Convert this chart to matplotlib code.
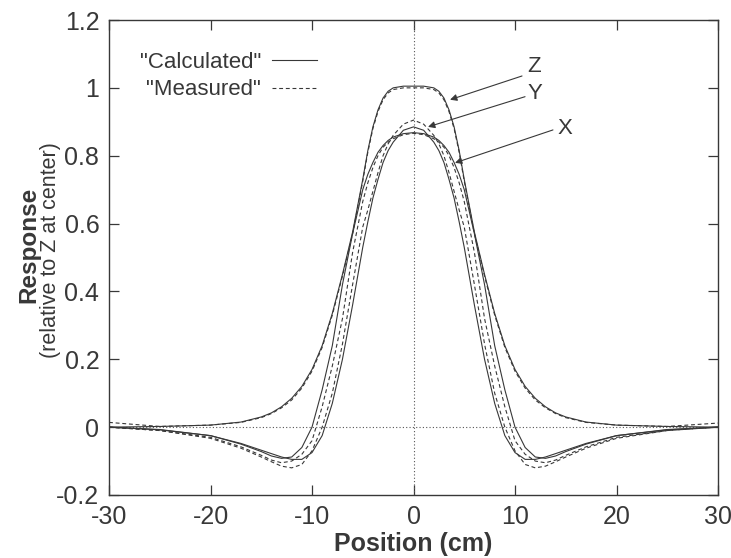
import numpy as np
import matplotlib
matplotlib.use('Agg')
import matplotlib.pyplot as plt

plt.rcParams['font.family'] = ['Liberation Sans', 'DejaVu Sans']

# positions (cm) shared by all curves
pos = [-30, -25, -20, -17, -15, -14, -13, -12, -11, -10, -9, -8, -7, -6, -5, -4.5, -4, -3.5, -3, -2.5, -2, -1,
       0, 1, 2, 2.5, 3, 3.5, 4, 4.5, 5, 6, 7, 8, 9, 10, 11, 12, 13, 14, 15, 17, 20, 25, 30]

# Z response
z_calc = [0.0, 0.002, 0.006, 0.015, 0.03, 0.042, 0.06, 0.085, 0.12, 0.17, 0.24, 0.335, 0.45, 0.575, 0.73, 0.815,
          0.885, 0.935, 0.97, 0.99, 1.0, 1.005,
          1.005, 1.005, 1.0, 0.99, 0.97, 0.935, 0.885, 0.815, 0.73, 0.575, 0.45, 0.335, 0.24, 0.17, 0.12,
          0.085, 0.06, 0.042, 0.03, 0.015, 0.006, 0.002, 0.0]
z_meas = [0.014, 0.002, 0.006, 0.014, 0.028, 0.04, 0.057, 0.08, 0.115, 0.165, 0.235, 0.33, 0.445, 0.57, 0.725, 0.81,
          0.88, 0.93, 0.965, 0.985, 0.995, 1.0,
          1.0, 1.0, 0.995, 0.985, 0.965, 0.93, 0.88, 0.81, 0.725, 0.57, 0.445, 0.33, 0.235, 0.165, 0.115,
          0.08, 0.057, 0.04, 0.028, 0.014, 0.006, 0.002, 0.012]

# X response
x_calc = [0.0, -0.007, -0.025, -0.05, -0.072, -0.085, -0.092, -0.088, -0.06, 0.0, 0.11, 0.24, 0.42, 0.57, 0.70,
          0.745, 0.78, 0.81, 0.83, 0.845, 0.855, 0.865,
          0.868, 0.865, 0.855, 0.845, 0.83, 0.81, 0.78, 0.745, 0.70, 0.57, 0.42, 0.24, 0.11, 0.0, -0.06,
          -0.088, -0.092, -0.085, -0.072, -0.05, -0.025, -0.007, 0.0]
x_meas = [0.0, -0.01, -0.03, -0.058, -0.083, -0.097, -0.105, -0.1, -0.08, -0.04, 0.06, 0.18, 0.32, 0.515, 0.665,
          0.72, 0.765, 0.80, 0.825, 0.84, 0.85, 0.862,
          0.866, 0.862, 0.85, 0.84, 0.825, 0.80, 0.765, 0.72, 0.665, 0.515, 0.32, 0.18, 0.06, -0.04, -0.08,
          -0.1, -0.105, -0.097, -0.083, -0.058, -0.03, -0.01, 0.0]

# Y response
y_calc = [0.0, -0.008, -0.025, -0.048, -0.068, -0.078, -0.088, -0.095, -0.095, -0.075, -0.025, 0.07, 0.20, 0.36,
          0.53, 0.605, 0.675, 0.73, 0.78, 0.815, 0.84, 0.875,
          0.885, 0.875, 0.84, 0.815, 0.78, 0.73, 0.675, 0.605, 0.53, 0.36, 0.20, 0.07, -0.025, -0.075, -0.095,
          -0.095, -0.088, -0.078, -0.068, -0.048, -0.025, -0.008, 0.0]
y_meas = [0.0, -0.01, -0.033, -0.062, -0.088, -0.102, -0.115, -0.12, -0.11, -0.07, 0.0, 0.10, 0.245, 0.42,
          0.59, 0.64, 0.695, 0.75, 0.80, 0.835, 0.86, 0.893,
          0.905, 0.893, 0.86, 0.835, 0.80, 0.75, 0.695, 0.64, 0.59, 0.42, 0.245, 0.10, 0.0, -0.07, -0.11,
          -0.12, -0.115, -0.102, -0.088, -0.062, -0.033, -0.01, 0.0]

xticks = [-30, -20, -10, 0, 10, 20, 30]
yticks = [-0.2, 0, 0.2, 0.4, 0.6, 0.8, 1, 1.2]
ytick_labels = ['-0.2', '0', '0.2', '0.4', '0.6', '0.8', '1', '1.2']

lc = '#383838'
dash = (0, (3.5, 2.5))

fig = plt.figure(figsize=(7.31, 5.58), dpi=100)
ax = fig.add_axes([109/731, 1-495/558, 609/731, 475/558])

# zero axes
ax.axhline(0, color='#555555', lw=0.8, ls=(0, (1, 2)))
ax.axvline(0, color='#555555', lw=0.8, ls=(0, (1, 2)))

l1, = ax.plot(pos, x_calc, color=lc, lw=0.8, label='"Calculated"')
l2, = ax.plot(pos, x_meas, color=lc, lw=0.8, ls=dash, label='"Measured"')
ax.plot(pos, y_calc, color=lc, lw=0.8)
ax.plot(pos, y_meas, color=lc, lw=0.8, ls=dash)
ax.plot(pos, z_calc, color=lc, lw=0.8)
ax.plot(pos, z_meas, color=lc, lw=0.8, ls=dash)

ax.set_xlim(-30, 30)
ax.set_ylim(-0.2, 1.2)
ax.set_xticks(xticks)
ax.set_xticklabels([str(t) for t in xticks])
ax.set_yticks(yticks)
ax.set_yticklabels(ytick_labels)
ax.tick_params(direction='in', length=7, width=0.9, top=True, right=True,
               labelsize=18, pad=7, colors=lc)
for s in ax.spines.values():
    s.set_linewidth(1.0)
    s.set_color(lc)

ax.set_xlabel('Position (cm)', fontsize=18, fontweight='bold', color=lc, labelpad=2)
fig.text(29/731, 1-245/558, 'Response', rotation=90, fontsize=17.5, fontweight='bold',
         color=lc, ha='center', va='center')
fig.text(51/731, 1-250/558, '(relative to Z at center)', rotation=90, fontsize=15.5,
         color=lc, ha='center', va='center')

leg = ax.legend(handles=[l1, l2], loc='upper left', bbox_to_anchor=(0.036, 0.952),
                borderaxespad=0, frameon=False, markerfirst=False, fontsize=16,
                handlelength=2.0, handletextpad=0.5, labelspacing=0.3)
for t in leg.get_texts():
    t.set_color(lc)

arr = dict(arrowstyle='-|>', color=lc, lw=0.8, mutation_scale=10, shrinkA=0, shrinkB=0)
ax.annotate('', xy=(3.60, 0.965), xytext=(10.69, 1.035), arrowprops=arr)
ax.annotate('', xy=(1.43, 0.885), xytext=(10.99, 0.974), arrowprops=arr)
ax.annotate('', xy=(4.09, 0.779), xytext=(13.74, 0.876), arrowprops=arr)
ax.text(11.87, 1.062, 'Z', fontsize=16, color=lc, ha='center', va='center')
ax.text(11.97, 0.982, 'Y', fontsize=16, color=lc, ha='center', va='center')
ax.text(14.93, 0.879, 'X', fontsize=16, color=lc, ha='center', va='center')

fig.savefig('out.png', dpi=100)
